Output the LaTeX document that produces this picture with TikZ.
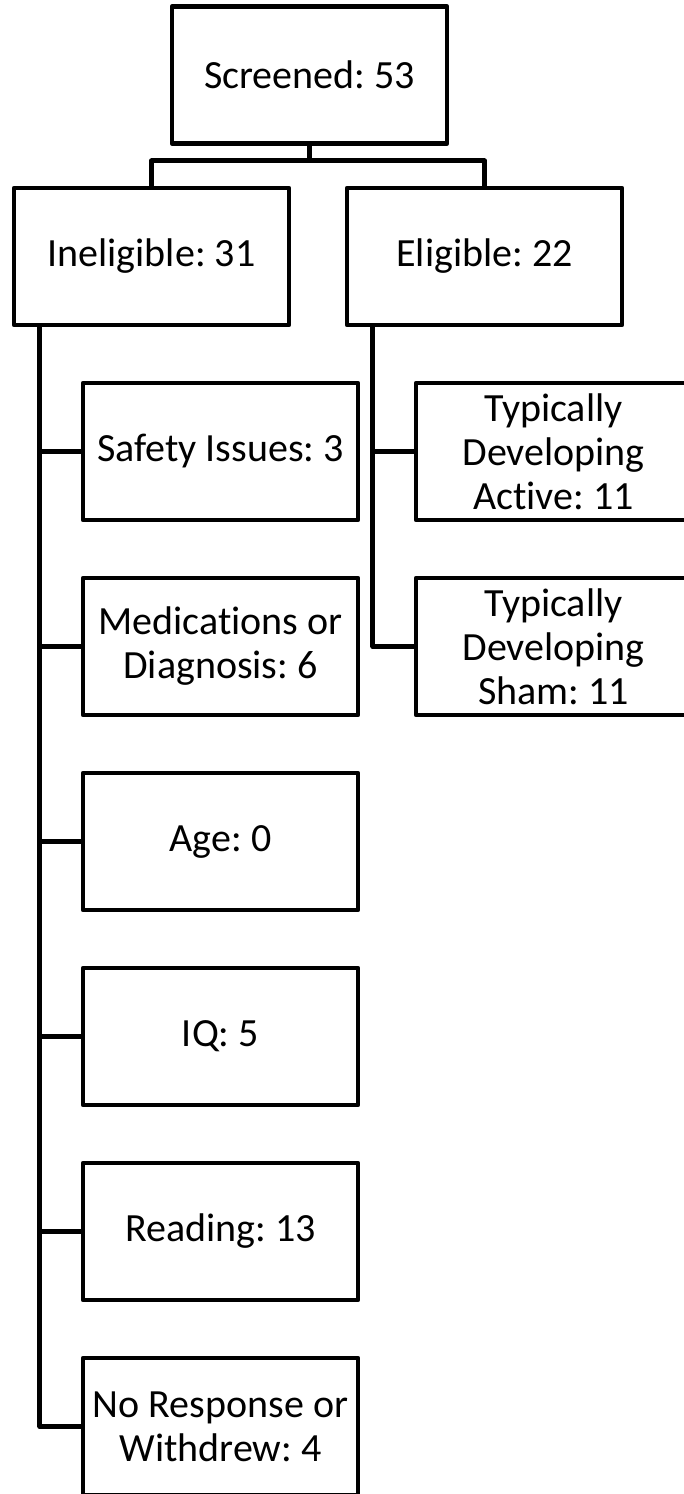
\documentclass[tikz,border=0pt]{standalone}
\usepackage{fontspec}
\setmainfont{Carlito}[Ligatures=NoCommon]
\frenchspacing
\usetikzlibrary{calc}
\tikzset{
  flowbox/.style={draw, line width=3.4pt, line join=round, minimum width=206.25pt,
    minimum height=102.75pt, inner sep=0pt, align=center,
    font=\fontsize{30}{33}\selectfont},
  link/.style={line width=3.4pt, line join=round}
}
\begin{document}
\begin{tikzpicture}[x=0.75pt, y=-0.75pt]
      \useasboundingbox (0,0) rectangle (683,1494);
      \draw
        (309.5,75) node[flowbox] (scr){Screened: 53}
        (151.5,256.5) node[flowbox] (inel){Ineligible: 31}
        (484.5,256.5) node[flowbox] (elig){Eligible: 22}
        (220.5,451.5) node[flowbox] (safety){Safety Issues: 3}
        (220.5,646.5) node[flowbox] (meds){Medications or\\Diagnosis: 6}
        (220.5,841.5) node[flowbox] (age){Age: 0}
        (220.5,1036.5) node[flowbox] (iq){IQ: 5}
        (220.5,1231.5) node[flowbox] (reading){Reading: 13}
        (220.5,1426.5) node[flowbox] (noresp){No Response or\\Withdrew: 4}
        (553.5,451.5) node[flowbox] (tdactive){Typically\\Developing\\Active: 11}
        (553.5,646.5) node[flowbox] (tdsham){Typically\\Developing\\Sham: 11};
      \begin{scope}[link]
        \draw (scr.south) -- ++(0,15) -| (inel.north);
        \draw (scr.south) -- ++(0,15) -| (elig.north);
        \draw (safety.west) -| ($(inel.south west)+(28,0)$);
        \draw (meds.west) -| ($(inel.south west)+(28,0)$);
        \draw (age.west) -| ($(inel.south west)+(28,0)$);
        \draw (iq.west) -| ($(inel.south west)+(28,0)$);
        \draw (reading.west) -| ($(inel.south west)+(28,0)$);
        \draw (noresp.west) -| ($(inel.south west)+(28,0)$);
        \draw (tdactive.west) -| ($(elig.south west)+(28,0)$);
        \draw (tdsham.west) -| ($(elig.south west)+(28,0)$);
      \end{scope}
    \end{tikzpicture}
\end{document}
